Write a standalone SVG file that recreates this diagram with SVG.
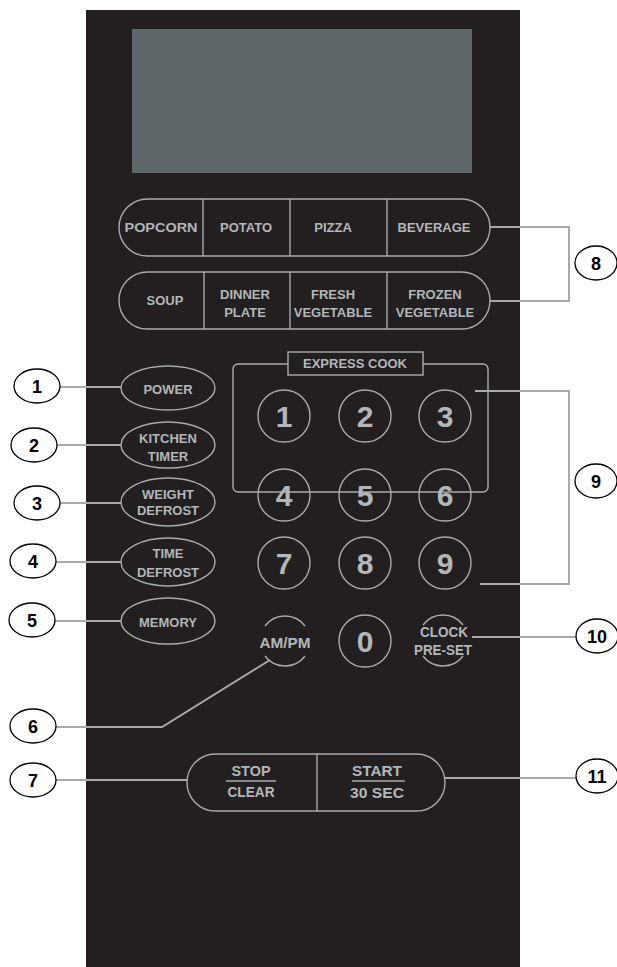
<svg xmlns="http://www.w3.org/2000/svg" width="617" height="967" viewBox="0 0 617 967">
<style>
.btn{fill:none;stroke:#a9abae;stroke-width:1.4}
.bt{font-family:"Liberation Sans",Arial,sans-serif;font-weight:bold;font-size:13px;fill:#b3b6ba;text-anchor:middle}
.dg{font-family:"Liberation Sans",Arial,sans-serif;font-weight:bold;font-size:30px;fill:#b3b6ba;text-anchor:middle}
.cn{font-family:"Liberation Sans",Arial,sans-serif;font-weight:bold;font-size:15px;fill:#b3b6ba;text-anchor:middle}
.lc{fill:#fff;stroke:#000;stroke-width:1.3}
.lt{font-family:"Liberation Sans",Arial,sans-serif;font-weight:bold;font-size:18px;fill:#000;text-anchor:middle}
.con{fill:none;stroke:#a7a9ac;stroke-width:2}
</style>
<rect id="panel" x="86" y="10" width="434" height="957" fill="#231f20"/>
<rect id="display" x="132" y="29" width="340" height="144" fill="#5f676b"/>

<g id="row1">
<rect class="btn" x="119" y="199" width="371" height="57" rx="28.5"/>
<line class="btn" x1="203" y1="199" x2="203" y2="256"/>
<line class="btn" x1="290" y1="199" x2="290" y2="256"/>
<line class="btn" x1="387" y1="199" x2="387" y2="256"/>
<text class="bt" x="161" y="232" textLength="73" lengthAdjust="spacingAndGlyphs">POPCORN</text>
<text class="bt" x="246" y="232">POTATO</text>
<text class="bt" x="333" y="232">PIZZA</text>
<text class="bt" x="434" y="232">BEVERAGE</text>
</g>
<g id="row2">
<rect class="btn" x="119" y="272" width="371" height="57" rx="28.5"/>
<line class="btn" x1="204" y1="272" x2="204" y2="329"/>
<line class="btn" x1="290" y1="272" x2="290" y2="329"/>
<line class="btn" x1="387" y1="272" x2="387" y2="329"/>
<text class="bt" x="165" y="305">SOUP</text>
<text class="bt" x="245" y="299">DINNER</text>
<text class="bt" x="245" y="317">PLATE</text>
<text class="bt" x="333" y="299">FRESH</text>
<text class="bt" x="333" y="317">VEGETABLE</text>
<text class="bt" x="435" y="299">FROZEN</text>
<text class="bt" x="435" y="317">VEGETABLE</text>
</g>

<g id="power"><ellipse class="btn" cx="168" cy="388" rx="47" ry="22"/><text class="bt" x="168" y="394">POWER</text></g>
<g id="kitchen-timer"><ellipse class="btn" cx="168" cy="445" rx="47" ry="23"/><text class="bt" x="168" y="443">KITCHEN</text><text class="bt" x="168" y="461">TIMER</text></g>
<g id="weight-defrost"><ellipse class="btn" cx="168" cy="502" rx="47" ry="24"/><text class="bt" x="168" y="499">WEIGHT</text><text class="bt" x="168" y="515">DEFROST</text></g>
<g id="time-defrost"><ellipse class="btn" cx="168" cy="562" rx="47" ry="24"/><text class="bt" x="168" y="558">TIME</text><text class="bt" x="168" y="577">DEFROST</text></g>
<g id="memory"><ellipse class="btn" cx="168" cy="621" rx="47" ry="23"/><text class="bt" x="168" y="627">MEMORY</text></g>

<g id="express-cook">
<rect class="btn" x="233" y="364" width="255" height="128" rx="5"/>
<rect x="288" y="352" width="135" height="23" fill="#231f20" stroke="#a9abae" stroke-width="1.4"/>
<text class="bt" x="355" y="368">EXPRESS COOK</text>
</g>

<g id="keypad">
<g id="k1"><circle class="btn" cx="284" cy="416" r="26"/><text class="dg" x="284" y="427">1</text></g>
<g id="k2"><circle class="btn" cx="365" cy="416" r="26"/><text class="dg" x="365" y="427">2</text></g>
<g id="k3"><circle class="btn" cx="445" cy="416" r="26"/><text class="dg" x="445" y="427">3</text></g>
<g id="k4"><circle class="btn" cx="284" cy="495" r="26"/><text class="dg" x="284" y="506">4</text></g>
<g id="k5"><circle class="btn" cx="365" cy="495" r="26"/><text class="dg" x="365" y="506">5</text></g>
<g id="k6"><circle class="btn" cx="445" cy="495" r="26"/><text class="dg" x="445" y="506">6</text></g>
<g id="k7"><circle class="btn" cx="284" cy="563" r="26"/><text class="dg" x="284" y="574">7</text></g>
<g id="k8"><circle class="btn" cx="365" cy="563" r="26"/><text class="dg" x="365" y="574">8</text></g>
<g id="k9"><circle class="btn" cx="445" cy="563" r="26"/><text class="dg" x="445" y="574">9</text></g>
<g id="k0"><circle class="btn" cx="365" cy="641" r="26"/><text class="dg" x="365" y="652">0</text></g>
</g>

<g id="ampm">
<path class="btn" d="M265,626 A25,25 0 0 1 305,626"/>
<path class="btn" d="M305,656 A25,25 0 0 1 265,656"/>
<text class="cn" x="285" y="648" textLength="51" lengthAdjust="spacingAndGlyphs">AM/PM</text>
</g>
<g id="clock-preset">
<path class="btn" d="M423,625 A25,25 0 0 1 463,625"/>
<path class="btn" d="M463,656 A25,25 0 0 1 423,656"/>
<text class="cn" x="444" y="637" textLength="48" lengthAdjust="spacingAndGlyphs">CLOCK</text>
<text class="cn" x="443" y="655" textLength="58" lengthAdjust="spacingAndGlyphs">PRE-SET</text>
</g>

<g id="stop-start">
<rect class="btn" x="187" y="754" width="258" height="57" rx="28.5"/>
<line class="btn" x1="317" y1="754" x2="317" y2="811"/>
<text class="cn" x="251" y="776" textLength="39" lengthAdjust="spacingAndGlyphs">STOP</text>
<line class="btn" x1="226" y1="781" x2="276" y2="781"/>
<text class="cn" x="251" y="797" textLength="47" lengthAdjust="spacingAndGlyphs">CLEAR</text>
<text class="cn" x="377" y="776" textLength="50" lengthAdjust="spacingAndGlyphs">START</text>
<line class="btn" x1="352" y1="781" x2="405" y2="781"/>
<text class="cn" x="377" y="798" textLength="54" lengthAdjust="spacingAndGlyphs">30 SEC</text>
</g>

<g id="connectors">
<line class="con" x1="60" y1="387" x2="121" y2="387"/>
<line class="con" x1="57" y1="445" x2="121" y2="445"/>
<line class="con" x1="60" y1="503" x2="121" y2="503"/>
<line class="con" x1="56" y1="562" x2="121" y2="562"/>
<line class="con" x1="55" y1="621" x2="121" y2="621"/>
<polyline class="con" points="56,727 162,727 270,660"/>
<line class="con" x1="56" y1="780" x2="187" y2="780"/>
<polyline class="con" points="490,227 569,227 569,301 490,301"/>
<polyline class="con" points="475,391 569,391 569,584 480,584"/>
<line class="con" x1="472" y1="637" x2="576" y2="637"/>
<line class="con" x1="445" y1="778" x2="576" y2="778"/>
</g>

<g id="label1"><ellipse class="lc" cx="37" cy="386" rx="23" ry="17"/><text class="lt" x="37" y="393">1</text></g>
<g id="label2"><ellipse class="lc" cx="34" cy="445" rx="23" ry="17"/><text class="lt" x="34" y="452">2</text></g>
<g id="label3"><ellipse class="lc" cx="37" cy="503" rx="23" ry="17"/><text class="lt" x="37" y="510">3</text></g>
<g id="label4"><ellipse class="lc" cx="33" cy="561" rx="23" ry="17"/><text class="lt" x="33" y="568">4</text></g>
<g id="label5"><ellipse class="lc" cx="32" cy="620" rx="23" ry="17"/><text class="lt" x="32" y="627">5</text></g>
<g id="label6"><ellipse class="lc" cx="33" cy="726" rx="23" ry="17"/><text class="lt" x="33" y="733">6</text></g>
<g id="label7"><ellipse class="lc" cx="33" cy="780" rx="23" ry="17"/><text class="lt" x="33" y="787">7</text></g>
<g id="label8"><ellipse class="lc" cx="596" cy="263" rx="21" ry="17"/><text class="lt" x="596" y="270">8</text></g>
<g id="label9"><ellipse class="lc" cx="596" cy="481" rx="21" ry="17"/><text class="lt" x="596" y="488">9</text></g>
<g id="label10"><ellipse class="lc" cx="597" cy="636" rx="21" ry="17"/><text class="lt" x="597" y="643">10</text></g>
<g id="label11"><ellipse class="lc" cx="597" cy="776" rx="21" ry="17"/><text class="lt" x="597" y="783">11</text></g>
</svg>
